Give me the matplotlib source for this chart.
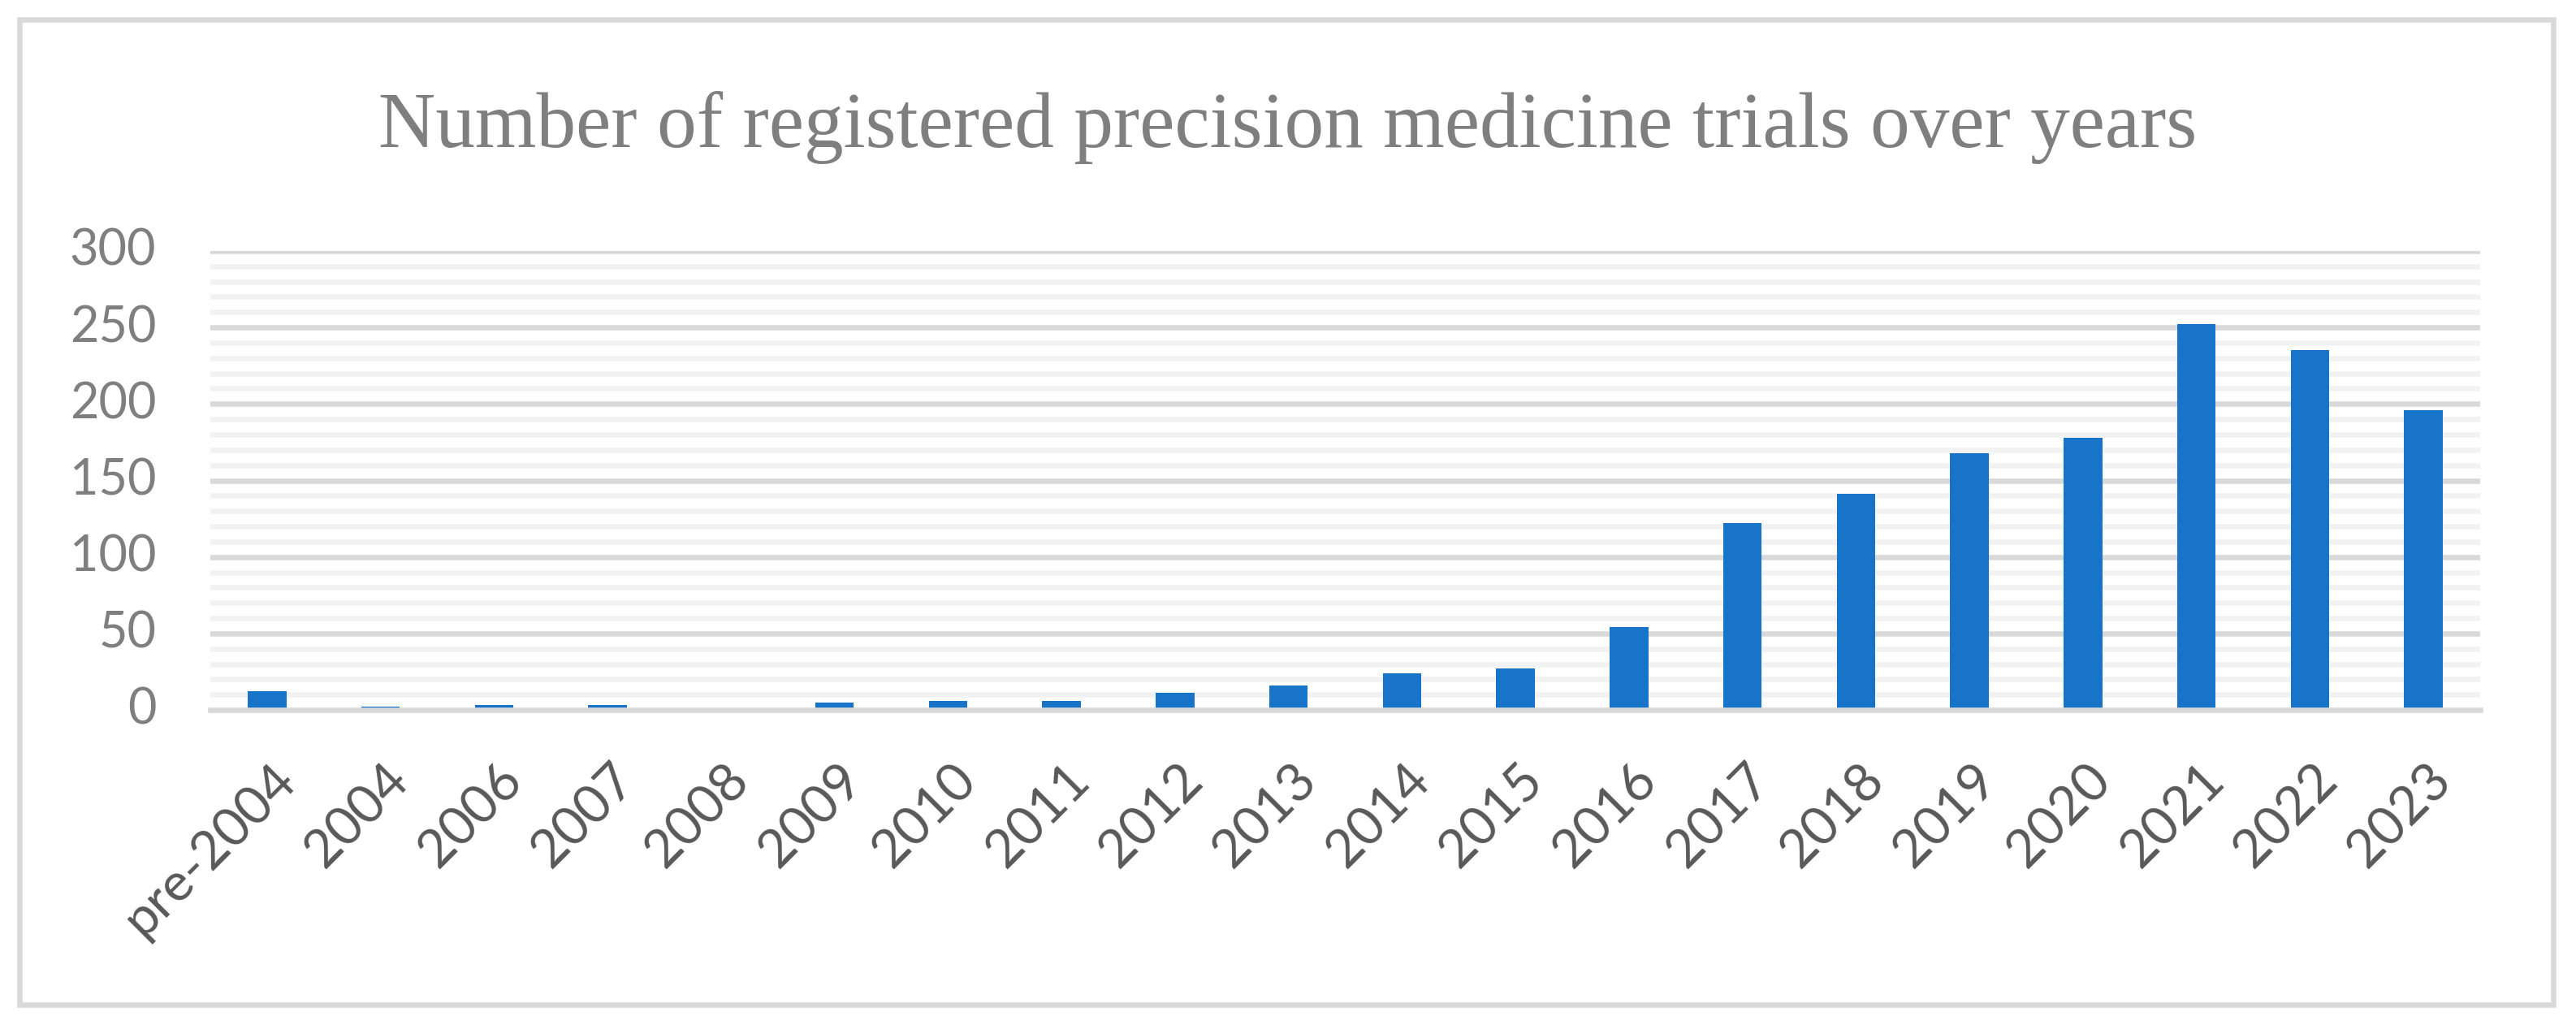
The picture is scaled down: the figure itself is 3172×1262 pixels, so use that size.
import matplotlib
matplotlib.use("Agg")
import matplotlib.pyplot as plt
from matplotlib.patches import Rectangle
from matplotlib.transforms import ScaledTranslation

years = ["pre-2004", "2004", "2006", "2007", "2008", "2009", "2010", "2011",
         "2012", "2013", "2014", "2015", "2016", "2017", "2018", "2019",
         "2020", "2021", "2022", "2023"]
trials = [12, 2, 3, 3, 0, 5, 6, 6, 11, 16, 24, 27, 54, 122, 141, 168,
          178, 252, 235, 196]
y_ticks = [0, 50, 100, 150, 200, 250, 300]

title = "Number of registered precision medicine trials over years"

W, H = 3172, 1262
fig = plt.figure(figsize=(W / 100, H / 100), dpi=100)
ax = fig.add_axes([259 / W, 1 - 874 / H, (3054 - 259) / W, (874 - 309) / H])

#%% grid lines (minor every 10, major every 50)
for v in range(10, 301, 10):
    col = "#D9D9D9" if v % 50 == 0 else "#F2F2F2"
    ax.axhline(v, color=col, lw=4.7, zorder=1)

ax.bar(range(len(years)), trials, width=0.34, color="#1874C8", zorder=2)

# axis line on top of the bars, like excel
ax.axhline(0, color="#D9D9D9", lw=4.7, zorder=3, clip_on=False)

ax.set_xlim(-0.5, len(years) - 0.5)
ax.set_ylim(0, 300)
for s in ax.spines.values():
    s.set_visible(False)

ax.set_yticks(y_ticks)
ax.set_yticklabels([str(t) for t in y_ticks], fontsize=44, color="#7F7F7F",
                   family="Lato")
ax.tick_params(axis="y", length=0, pad=48)
up = ScaledTranslation(0, 5 / 100, fig.dpi_scale_trans)
for lab in ax.get_yticklabels():
    lab.set_transform(lab.get_transform() + up)

ax.set_xticks(range(len(years)))
ax.set_xticklabels(years, rotation=45, ha="right", va="top",
                   rotation_mode="anchor", fontsize=47, color="#595959",
                   family="Lato")
ax.tick_params(axis="x", length=0, pad=40)
shift = ScaledTranslation(4 / 100, 0, fig.dpi_scale_trans)
for lab in ax.get_xticklabels():
    lab.set_transform(lab.get_transform() + shift)

fig.text(0.5, 1 - 157 / H, title, ha="center", va="center", fontsize=70,
         color="#7F7F7F", family="Liberation Serif")

# outer chart border
fig.patches.append(Rectangle((24 / W, 1 - 1237 / H), (3144 - 24) / W,
                             (1237 - 24) / H, transform=fig.transFigure,
                             fill=False, ec="#D9D9D9", lw=4.7))

fig.savefig("out.png", dpi=100)
